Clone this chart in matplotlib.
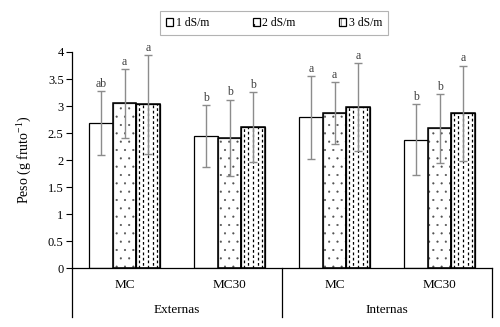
"""Peso por fruto: barras agrupadas con error y letras"""

import numpy as np
import matplotlib
matplotlib.use("Agg")
import matplotlib.pyplot as plt
from matplotlib.lines import Line2D
from matplotlib.patches import Patch

plt.rcParams['font.family'] = ['Liberation Serif', 'DejaVu Serif']
plt.rcParams['mathtext.fontset'] = 'custom'
plt.rcParams['mathtext.rm'] = 'Liberation Serif'
plt.rcParams['hatch.linewidth'] = 0.3

groups = ['Externas', 'Internas']
subgroups = ['MC', 'MC30', 'MC', 'MC30']
series = ['1 dS/m', '2 dS/m', '3 dS/m']

peso_1 = [2.68, 2.44, 2.79, 2.38]
peso_2 = [3.05, 2.41, 2.87, 2.59]
peso_3 = [3.03, 2.61, 2.98, 2.87]

err_1 = [0.59, 0.57, 0.77, 0.65]
err_2 = [0.64, 0.71, 0.57, 0.64]
err_3 = [0.91, 0.65, 0.81, 0.88]

letras_1 = ['ab', 'b', 'a', 'b']
letras_2 = ['a', 'b', 'a', 'b']
letras_3 = ['a', 'b', 'a', 'a']

W = 0.223


def dashed_fill(ax, x, vals, ncol=5):
    """Vertical dashed texture inside each bar"""
    for xi, v in zip(x, vals):
        for k in range(ncol):
            xc = xi - W / 2 + (k + 0.5) * W / ncol
            off = 0 if k % 2 == 0 else 2.0
            ax.plot([xc, xc], [0, v], color='black', linewidth=0.9,
                    linestyle=(off, (2.2, 2.0)), zorder=2.1,
                    dash_capstyle='butt')


def draw_series(ax, x, vals, errs, letters, hatch=None, dashed=False):
    ax.bar(x, vals, width=W, color='white',
           edgecolor='#505050' if hatch else 'black',
           linewidth=0.9, hatch=hatch, zorder=2)
    if dashed:
        dashed_fill(ax, x, vals)
    if hatch or dashed:
        ax.bar(x, vals, width=W, color='none', edgecolor='black',
               linewidth=1.1, zorder=2.2)
    ax.errorbar(x, vals, yerr=errs, fmt='none', ecolor='#8c8c8c',
                elinewidth=1.0, capsize=3, capthick=1.0, zorder=3)
    for xi, v, e, t in zip(x, vals, errs, letters):
        ax.text(xi, v + e + 0.02, t, ha='center', va='bottom',
                fontsize=8.5, color='#404040')


def main():
    fig = plt.figure(figsize=(5.0, 3.27), dpi=100)
    ax = fig.add_axes([0.144, 0.18, 0.84, 0.661])

    x = np.arange(len(subgroups))
    draw_series(ax, x - W, peso_1, err_1, letras_1)
    draw_series(ax, x, peso_2, err_2, letras_2, hatch='..')
    draw_series(ax, x + W, peso_3, err_3, letras_3, dashed=True)

    ax.set_xlim(-0.5, 3.5)
    ax.set_ylim(0, 4)
    ax.set_yticks(np.arange(0, 4.01, 0.5))
    ax.set_yticklabels(['0', '0.5', '1', '1.5', '2', '2.5', '3', '3.5', '4'])
    ax.tick_params(axis='y', labelsize=9, length=4, width=0.8, direction='out', pad=2)
    ax.set_xticks([])
    for s in ['top', 'right']:
        ax.spines[s].set_visible(False)
    ax.spines['left'].set_linewidth(0.9)
    ax.spines['bottom'].set_linewidth(0.9)
    ax.set_ylabel('Peso (g fruto$^{\\mathregular{-1}}$)', fontsize=10, labelpad=11)

    # category axis below the bars
    trans = ax.get_xaxis_transform()
    for xs in [-0.5, 1.5, 3.5]:
        ax.add_line(Line2D([xs, xs], [0, -0.227], transform=trans,
                           color='black', linewidth=0.9, clip_on=False))
    for xi, lab in zip(x, subgroups):
        ax.text(xi, -0.079, lab, transform=trans, ha='center', va='center',
                fontsize=9.5)
    for gi, g in enumerate(groups):
        ax.text(0.5 + 2 * gi, -0.194, g, transform=trans, ha='center',
                va='center', fontsize=9.5)

    handles = [Patch(facecolor='white', edgecolor='black', linewidth=0.9),
               Patch(facecolor='white', edgecolor='black', linewidth=0.9, hatch='..'),
               Patch(facecolor='white', edgecolor='black', linewidth=0.9, hatch='|||')]
    leg = fig.legend(handles=handles, labels=series, loc='center',
                     bbox_to_anchor=(0.548, 0.929), ncol=3, fontsize=8.5,
                     frameon=True, fancybox=False, edgecolor='#a0a0a0',
                     handlelength=0.6, handleheight=0.6, handletextpad=0.2,
                     columnspacing=3.7, borderpad=0.5, borderaxespad=0)
    leg.get_frame().set_linewidth(0.8)

    fig.savefig('out.png', dpi=100)


if __name__ == "__main__":
    main()
